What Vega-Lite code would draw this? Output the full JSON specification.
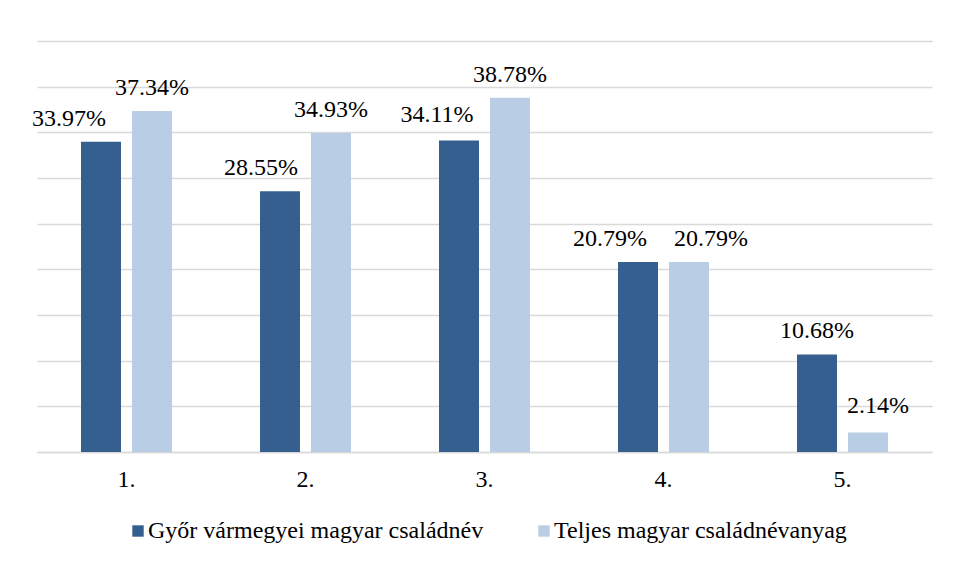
{
  "$schema": "https://vega.github.io/schema/vega-lite/v6.json",
  "autosize": {"type": "none"},
  "width": 895,
  "height": 411,
  "padding": {"left": 37, "top": 41, "right": 22, "bottom": 111},
  "background": "white",
  "config": {
    "view": {"stroke": null},
    "font": "Liberation Serif",
    "text": {"font": "Liberation Serif", "fontSize": 24, "color": "#000000", "baseline": "alphabetic"},
    "legend": {"labelFont": "Liberation Serif", "labelFontSize": 24, "labelColor": "#000000"},
    "axis": {"labelFont": "Liberation Serif"}
  },
  "data": {
    "values": [
      {"cat": "1.", "series": "Győr vármegyei magyar családnév", "value": 0.3397},
      {"cat": "1.", "series": "Teljes magyar családnévanyag", "value": 0.3734},
      {"cat": "2.", "series": "Győr vármegyei magyar családnév", "value": 0.2855},
      {"cat": "2.", "series": "Teljes magyar családnévanyag", "value": 0.3493},
      {"cat": "3.", "series": "Győr vármegyei magyar családnév", "value": 0.3411},
      {"cat": "3.", "series": "Teljes magyar családnévanyag", "value": 0.3878},
      {"cat": "4.", "series": "Győr vármegyei magyar családnév", "value": 0.2079},
      {"cat": "4.", "series": "Teljes magyar családnévanyag", "value": 0.2079},
      {"cat": "5.", "series": "Győr vármegyei magyar családnév", "value": 0.1068},
      {"cat": "5.", "series": "Teljes magyar családnévanyag", "value": 0.0214}
    ]
  },
  "encoding": {
    "x": {
      "field": "cat", "type": "nominal",
      "scale": {"paddingInner": 0.4916, "paddingOuter": 0.2458},
      "axis": {
        "title": null, "labelAngle": 0, "ticks": false,
        "domainColor": "#D9D9D9", "domainWidth": 1.5,
        "labelFont": "Liberation Serif", "labelFontSize": 24, "labelColor": "#000000",
        "labelPadding": 15
      }
    },
    "xOffset": {
      "field": "series", "type": "nominal",
      "scale": {"domain": ["Győr vármegyei magyar családnév", "Teljes magyar családnévanyag"], "paddingInner": 0.2157, "paddingOuter": 0}
    },
    "y": {
      "field": "value", "type": "quantitative",
      "scale": {"domain": [0, 0.45], "nice": false},
      "axis": {
        "title": null, "labels": false, "ticks": false, "domain": false,
        "values": [0, 0.05, 0.1, 0.15, 0.2, 0.25, 0.3, 0.35, 0.4, 0.45],
        "gridColor": "#D9D9D9", "gridWidth": 1.5
      }
    }
  },
  "layer": [
    {
      "mark": {"type": "bar"},
      "encoding": {
        "color": {
          "field": "series", "type": "nominal",
          "scale": {"domain": ["Győr vármegyei magyar családnév", "Teljes magyar családnévanyag"], "range": ["#355F8F", "#B9CDE5"]},
          "legend": {
            "title": null, "orient": "none", "direction": "horizontal",
            "legendX": 89, "legendY": 478,
            "symbolType": "square", "symbolSize": 130, "symbolStrokeWidth": 0,
            "labelFont": "Liberation Serif", "labelFontSize": 24, "labelColor": "#000000",
            "labelOffset": -2, "columnPadding": 48, "labelLimit": 500
          }
        }
      }
    },
    {
      "transform": [{"filter": "(datum.series == 'Teljes magyar családnévanyag' && (datum.cat == '1.' || datum.cat == '2.' || datum.cat == '3.')) || (datum.series == 'Győr vármegyei magyar családnév' && datum.cat == '5.')"}],
      "mark": {"type": "text", "font": "Liberation Serif", "fontSize": 24, "color": "#000000", "baseline": "alphabetic", "dy": -16},
      "encoding": {"text": {"field": "value", "type": "quantitative", "format": ".2%"}}
    },
    {
      "transform": [{"filter": "datum.series == 'Győr vármegyei magyar családnév' && datum.cat == '1.'"}],
      "mark": {"type": "text", "font": "Liberation Serif", "fontSize": 24, "color": "#000000", "baseline": "alphabetic", "dy": -16, "dx": -32},
      "encoding": {"text": {"field": "value", "type": "quantitative", "format": ".2%"}}
    },
    {
      "transform": [{"filter": "datum.series == 'Győr vármegyei magyar családnév' && datum.cat == '2.'"}],
      "mark": {"type": "text", "font": "Liberation Serif", "fontSize": 24, "color": "#000000", "baseline": "alphabetic", "dy": -16, "dx": -19},
      "encoding": {"text": {"field": "value", "type": "quantitative", "format": ".2%"}}
    },
    {
      "transform": [{"filter": "datum.series == 'Győr vármegyei magyar családnév' && datum.cat == '3.'"}],
      "mark": {"type": "text", "font": "Liberation Serif", "fontSize": 24, "color": "#000000", "baseline": "alphabetic", "dy": -18, "dx": -22},
      "encoding": {"text": {"field": "value", "type": "quantitative", "format": ".2%"}}
    },
    {
      "transform": [{"filter": "datum.series == 'Győr vármegyei magyar családnév' && datum.cat == '4.'"}],
      "mark": {"type": "text", "font": "Liberation Serif", "fontSize": 24, "color": "#000000", "baseline": "alphabetic", "dy": -16, "dx": -28},
      "encoding": {"text": {"field": "value", "type": "quantitative", "format": ".2%"}}
    },
    {
      "transform": [{"filter": "datum.series == 'Teljes magyar családnévanyag' && datum.cat == '4.'"}],
      "mark": {"type": "text", "font": "Liberation Serif", "fontSize": 24, "color": "#000000", "baseline": "alphabetic", "dy": -16, "dx": 22},
      "encoding": {"text": {"field": "value", "type": "quantitative", "format": ".2%"}}
    },
    {
      "transform": [{"filter": "datum.series == 'Teljes magyar családnévanyag' && datum.cat == '5.'"}],
      "mark": {"type": "text", "font": "Liberation Serif", "fontSize": 24, "color": "#000000", "baseline": "alphabetic", "dy": -19, "dx": 10},
      "encoding": {"text": {"field": "value", "type": "quantitative", "format": ".2%"}}
    }
  ]
}
